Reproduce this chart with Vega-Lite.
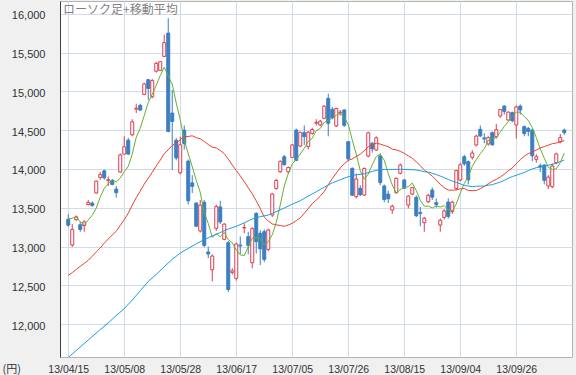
{
 "$schema": "https://vega.github.io/schema/vega-lite/v6.json",
 "width": 512, "height": 356,
 "autosize": {"type": "none"},
 "padding": {"left": 60, "top": 1, "right": 4, "bottom": 18},
 "background": "#f0f0f0",
 "title": {"text": "ローソク足+移動平均", "anchor": "start", "frame": "group", "orient": "top", "offset": -16, "dx": 3, "fontSize": 12, "font": "Noto Sans CJK JP", "fontWeight": "normal", "color": "#808080"},
 "data": {"values": [
{"i":0,"o":13350,"h":13415,"l":13255,"c":13275,"m5":13358,"m25":12628,"m75":11570},
{"i":1,"o":13020,"h":13290,"l":12995,"c":13221,"m5":13364,"m25":12663},
{"i":2,"o":13345,"h":13400,"l":13330,"c":13382,"m5":13382,"m25":12705,"m75":11660},
{"i":3,"o":13280,"h":13320,"l":13190,"c":13220,"m5":13317,"m25":12745},
{"i":4,"o":13270,"h":13340,"l":13190,"c":13317,"m5":13283,"m25":12782},
{"i":5,"o":13540,"h":13600,"l":13530,"c":13568,"m5":13342,"m25":12822,"m75":11795},
{"i":6,"o":13560,"h":13580,"l":13510,"c":13529,"m5":13403,"m25":12875},
{"i":7,"o":13690,"h":13850,"l":13680,"c":13843,"m5":13495,"m25":12930},
{"i":8,"o":13890,"h":13960,"l":13860,"c":13926,"m5":13637,"m25":12981,"m75":11930},
{"i":9,"o":13975,"h":13990,"l":13860,"c":13884,"m5":13750,"m25":13043},
{"i":10,"o":13850,"h":13900,"l":13780,"c":13860,"m5":13808,"m25":13096,"m75":12015},
{"i":11,"o":13850,"h":13870,"l":13790,"c":13799,"m5":13862,"m25":13149},
{"i":12,"o":13740,"h":13780,"l":13630,"c":13694,"m5":13833,"m25":13197,"m75":12110},
{"i":13,"o":13960,"h":14200,"l":13950,"c":14180,"m5":13883,"m25":13271},
{"i":14,"o":14190,"h":14420,"l":14190,"c":14285,"m5":13964,"m25":13346,"m75":12200},
{"i":15,"o":14370,"h":14400,"l":14180,"c":14191,"m5":14030,"m25":13428},
{"i":16,"o":14440,"h":14640,"l":14420,"c":14607,"m5":14191,"m25":13533,"m75":12310},
{"i":17,"o":14770,"h":14840,"l":14720,"c":14782,"m5":14409,"m25":13629},
{"i":18,"o":14820,"h":14840,"l":14750,"c":14758,"m5":14525,"m25":13714,"m75":12430},
{"i":19,"o":14960,"h":15110,"l":14950,"c":15096,"m5":14687,"m25":13805},
{"i":20,"o":15150,"h":15160,"l":14890,"c":15037,"m5":14856,"m25":13879,"m75":12550},
{"i":21,"o":14930,"h":15160,"l":14910,"c":15138,"m5":14962,"m25":13956},
{"i":22,"o":15260,"h":15380,"l":15240,"c":15360,"m5":15078,"m25":14039,"m75":12640},
{"i":23,"o":15270,"h":15390,"l":15260,"c":15381,"m5":15202,"m25":14113},
{"i":24,"o":15450,"h":15730,"l":15440,"c":15627,"m5":15309,"m25":14198,"m75":12740},
{"i":25,"o":15750,"h":15942,"l":14470,"c":14483,"m5":15198,"m25":14247},
{"i":26,"o":14720,"h":15017,"l":13985,"c":14612,"m5":15093,"m25":14302,"m75":12835},
{"i":27,"o":14370,"h":14400,"l":14110,"c":14142,"m5":14849,"m25":14333},
{"i":28,"o":13950,"h":14415,"l":13930,"c":14311,"m5":14635,"m25":14376,"m75":12915},
{"i":29,"o":14500,"h":14560,"l":14250,"c":14326,"m5":14375,"m25":14417},
{"i":30,"o":14100,"h":14120,"l":13540,"c":13589,"m5":14196,"m25":14418,"m75":12975},
{"i":31,"o":13820,"h":13920,"l":13690,"c":13775,"m5":14029,"m25":14427},
{"i":32,"o":13560,"h":13570,"l":13250,"c":13262,"m5":13853,"m25":14404,"m75":13035},
{"i":33,"o":13200,"h":13600,"l":13180,"c":13533,"m5":13697,"m25":14388},
{"i":34,"o":13570,"h":13600,"l":12990,"c":13014,"m5":13435,"m25":14354,"m75":13090},
{"i":35,"o":12930,"h":13000,"l":12850,"c":12904,"m5":13298,"m25":14315},
{"i":36,"o":12700,"h":12900,"l":12550,"c":12877,"m5":13118,"m25":14279,"m75":13135},
{"i":37,"o":13234,"h":13540,"l":13200,"c":13514,"m5":13168,"m25":14271},
{"i":38,"o":13510,"h":13590,"l":13290,"c":13317,"m5":13125,"m25":14237,"m75":13180},
{"i":39,"o":13092,"h":13300,"l":13080,"c":13289,"m5":13180,"m25":14197},
{"i":40,"o":13049,"h":13072,"l":12415,"c":12445,"m5":13088,"m25":14127,"m75":13225},
{"i":41,"o":12667,"h":12720,"l":12640,"c":12686,"m5":13050,"m25":14050},
{"i":42,"o":12590,"h":13050,"l":12560,"c":13033,"m5":12954,"m25":13980,"m75":13260},
{"i":43,"o":13019,"h":13130,"l":12900,"c":13007,"m5":12892,"m25":13910},
{"i":44,"o":13240,"h":13300,"l":13170,"c":13245,"m5":12883,"m25":13836,"m75":13305},
{"i":45,"o":13127,"h":13190,"l":12900,"c":13014,"m5":12997,"m25":13756},
{"i":46,"o":12791,"h":13250,"l":12720,"c":13230,"m5":13106,"m25":13679,"m75":13355},
{"i":47,"o":13427,"h":13440,"l":12910,"c":13062,"m5":13112,"m25":13587},
{"i":48,"o":13170,"h":13210,"l":12760,"c":12969,"m5":13104,"m25":13491,"m75":13385},
{"i":49,"o":13191,"h":13220,"l":12800,"c":12834,"m5":13022,"m25":13379},
{"i":50,"o":12963,"h":13230,"l":12940,"c":13213,"m5":13062,"m25":13328,"m75":13405},
{"i":51,"o":13406,"h":13690,"l":13380,"c":13677,"m5":13151,"m25":13291},
{"i":52,"o":13749,"h":13870,"l":13730,"c":13852,"m5":13309,"m25":13279,"m75":13450},
{"i":53,"o":13964,"h":14110,"l":13950,"c":14098,"m5":13535,"m25":13271},
{"i":54,"o":14157,"h":14180,"l":14040,"c":14055,"m5":13779,"m25":13260,"m75":13495},
{"i":55,"o":13964,"h":14030,"l":13940,"c":14018,"m5":13940,"m25":13277},
{"i":56,"o":14149,"h":14320,"l":14140,"c":14309,"m5":14066,"m25":13299,"m75":13545},
{"i":57,"o":14501,"h":14520,"l":14100,"c":14109,"m5":14118,"m25":13333},
{"i":58,"o":14295,"h":14480,"l":14280,"c":14472,"m5":14193,"m25":13370,"m75":13590},
{"i":59,"o":14467,"h":14560,"l":14310,"c":14416,"m5":14265,"m25":13426},
{"i":60,"o":14290,"h":14490,"l":14250,"c":14472,"m5":14356,"m25":13489,"m75":13650},
{"i":61,"o":14458,"h":14530,"l":14440,"c":14506,"m5":14395,"m25":13554},
{"i":62,"o":14590,"h":14640,"l":14560,"c":14599,"m5":14493,"m25":13598,"m75":13705},
{"i":63,"o":14566,"h":14630,"l":14550,"c":14615,"m5":14522,"m25":13649},
{"i":64,"o":14652,"h":14820,"l":14640,"c":14808,"m5":14600,"m25":13710,"m75":13765},
{"i":65,"o":14909,"h":14970,"l":14420,"c":14589,"m5":14623,"m25":13796},
{"i":66,"o":14768,"h":14800,"l":14640,"c":14658,"m5":14654,"m25":13875,"m75":13820},
{"i":67,"o":14553,"h":14790,"l":14540,"c":14778,"m5":14690,"m25":13945},
{"i":68,"o":14720,"h":14760,"l":14690,"c":14731,"m5":14713,"m25":14014,"m75":13860},
{"i":69,"o":14759,"h":14770,"l":14540,"c":14562,"m5":14664,"m25":14066},
{"i":70,"o":14351,"h":14360,"l":14100,"c":14129,"m5":14572,"m25":14111,"m75":13900},
{"i":71,"o":14007,"h":14020,"l":13650,"c":13661,"m5":14372,"m25":14128},
{"i":72,"o":13642,"h":13940,"l":13620,"c":13869,"m5":14190,"m25":14161,"m75":13925},
{"i":73,"o":13749,"h":13790,"l":13650,"c":13668,"m5":13978,"m25":14189},
{"i":74,"o":13663,"h":14020,"l":13650,"c":14005,"m5":13866,"m25":14235,"m75":13937},
{"i":75,"o":14166,"h":14480,"l":14150,"c":14466,"m5":13934,"m25":14285,"m75":13953},
{"i":76,"o":14329,"h":14350,"l":14210,"c":14258,"m5":14053,"m25":14309,"m75":13967},
{"i":77,"o":14243,"h":14420,"l":14230,"c":14401,"m5":14160,"m25":14331,"m75":13981},
{"i":78,"o":14166,"h":14200,"l":13790,"c":13824,"m5":14191,"m25":14320,"m75":13989},
{"i":79,"o":13780,"h":13800,"l":13570,"c":13605,"m5":14111,"m25":14302,"m75":13993},
{"i":80,"o":13676,"h":13720,"l":13560,"c":13615,"m5":13941,"m25":14286,"m75":13993},
{"i":81,"o":13470,"h":13540,"l":13420,"c":13519,"m5":13793,"m25":14254,"m75":13993},
{"i":82,"o":13694,"h":13890,"l":13680,"c":13879,"m5":13688,"m25":14245,"m75":13994},
{"i":83,"o":13943,"h":14070,"l":13930,"c":14050,"m5":13734,"m25":14228,"m75":13995},
{"i":84,"o":13857,"h":13870,"l":13740,"c":13752,"m5":13763,"m25":14201,"m75":13994},
{"i":85,"o":13534,"h":13660,"l":13490,"c":13650,"m5":13770,"m25":14168,"m75":13991},
{"i":86,"o":13676,"h":13770,"l":13660,"c":13758,"m5":13818,"m25":14138,"m75":13990},
{"i":87,"o":13633,"h":13660,"l":13380,"c":13397,"m5":13721,"m25":14090,"m75":13986},
{"i":88,"o":13440,"h":13510,"l":13260,"c":13424,"m5":13596,"m25":14043,"m75":13976},
{"i":89,"o":13307,"h":13380,"l":13190,"c":13365,"m5":13519,"m25":13985,"m75":13964},
{"i":90,"o":13577,"h":13680,"l":13560,"c":13660,"m5":13521,"m25":13948,"m75":13957},
{"i":91,"o":13728,"h":13760,"l":13600,"c":13636,"m5":13496,"m25":13907,"m75":13944},
{"i":92,"o":13565,"h":13620,"l":13500,"c":13542,"m5":13525,"m25":13858,"m75":13927},
{"i":93,"o":13277,"h":13360,"l":13190,"c":13338,"m5":13508,"m25":13802,"m75":13908},
{"i":94,"o":13376,"h":13480,"l":13350,"c":13459,"m5":13527,"m25":13758,"m75":13887},
{"i":95,"o":13573,"h":13620,"l":13360,"c":13388,"m5":13473,"m25":13728,"m75":13865},
{"i":96,"o":13449,"h":13590,"l":13420,"c":13572,"m5":13460,"m25":13725,"m75":13844},
{"i":97,"o":13749,"h":13990,"l":13730,"c":13978,"m5":13547,"m25":13729,"m75":13825},
{"i":98,"o":13857,"h":14080,"l":13840,"c":14053,"m5":13690,"m25":13744,"m75":13808},
{"i":99,"o":14157,"h":14180,"l":14040,"c":14065,"m5":13811,"m25":13747,"m75":13787},
{"i":100,"o":14093,"h":14110,"l":13800,"c":13860,"m5":13906,"m25":13723,"m75":13779},
{"i":101,"o":14149,"h":14240,"l":14120,"c":14205,"m5":14032,"m25":13720,"m75":13773},
{"i":102,"o":14308,"h":14440,"l":14290,"c":14423,"m5":14121,"m25":13721,"m75":13777},
{"i":103,"o":14510,"h":14560,"l":14410,"c":14425,"m5":14196,"m25":13745,"m75":13778},
{"i":104,"o":14400,"h":14460,"l":14330,"c":14387,"m5":14260,"m25":13777,"m75":13779},
{"i":105,"o":14321,"h":14420,"l":14300,"c":14404,"m5":14369,"m25":13808,"m75":13790},
{"i":106,"o":14467,"h":14480,"l":14300,"c":14311,"m5":14390,"m25":13840,"m75":13797},
{"i":107,"o":14415,"h":14580,"l":14390,"c":14505,"m5":14406,"m25":13865,"m75":13814},
{"i":108,"o":14682,"h":14770,"l":14660,"c":14766,"m5":14475,"m25":13894,"m75":13830},
{"i":109,"o":14810,"h":14820,"l":14700,"c":14742,"m5":14546,"m25":13933,"m75":13853},
{"i":110,"o":14630,"h":14740,"l":14620,"c":14732,"m5":14611,"m25":13976,"m75":13878},
{"i":111,"o":14725,"h":14740,"l":14600,"c":14620,"m5":14673,"m25":14011,"m75":13901},
{"i":112,"o":14566,"h":14820,"l":14390,"c":14799,"m5":14732,"m25":14067,"m75":13918},
{"i":113,"o":14810,"h":14830,"l":14700,"c":14760,"m5":14731,"m25":14120,"m75":13937},
{"i":114,"o":14544,"h":14560,"l":14420,"c":14455,"m5":14673,"m25":14164,"m75":13953},
{"i":115,"o":14523,"h":14540,"l":14420,"c":14484,"m5":14624,"m25":14197,"m75":13980},
{"i":116,"o":14501,"h":14520,"l":14100,"c":14170,"m5":14534,"m25":14218,"m75":14000},
{"i":117,"o":14123,"h":14190,"l":14080,"c":14157,"m5":14405,"m25":14243,"m75":14015},
{"i":118,"o":14040,"h":14070,"l":13960,"c":14024,"m5":14258,"m25":14270,"m75":14028},
{"i":119,"o":14050,"h":14060,"l":13800,"c":13853,"m5":14138,"m25":14286,"m75":14036},
{"i":120,"o":13780,"h":13920,"l":13740,"c":13894,"m5":14020,"m25":14306,"m75":14048},
{"i":121,"o":13771,"h":14070,"l":13750,"c":14037,"m5":13993,"m25":14325,"m75":14059},
{"i":122,"o":14080,"h":14210,"l":14060,"c":14194,"m5":14000,"m25":14334,"m75":14074},
{"i":123,"o":14351,"h":14450,"l":14330,"c":14404,"m5":14081,"m25":14348,"m75":14093},
{"i":124,"o":14501,"h":14520,"l":14440,"c":14467,"m5":14203,"m25":14364,"m75":14115}
 ]},
 "encoding": {
  "x": {"field": "i", "type": "quantitative",
   "scale": {"domain": [-0.809, 124.68], "nice": false, "zero": false},
   "axis": {"values": [0,14,28,42,56,70,84,98,112],
    "labelExpr": "['13/04/15','13/05/08','13/05/28','13/06/17','13/07/05','13/07/26','13/08/15','13/09/04','13/09/26'][round(datum.value/14)]",
    "grid": true, "gridColor": "#d3dbe8", "ticks": false, "domain": false, "title": null,
    "labelPadding": 7, "labelFontSize": 10.5, "labelFont": "Liberation Sans", "labelColor": "#333333", "labelFlush": false, "labelOverlap": false}}
 },
 "layer": [
  {"mark": {"type": "rule", "strokeWidth": 1, "clip": true},
   "encoding": {
    "y": {"field": "l", "type": "quantitative",
     "scale": {"domain": [11576, 16164], "nice": false, "zero": false},
     "axis": {"values": [12000,12500,13000,13500,14000,14500,15000,15500,16000], "format": ",d",
      "grid": true, "gridColor": "#d3dbe8", "ticks": false, "domain": true, "domainColor": "#404040",
      "labelPadding": 15, "labelOffset": 2, "labelFontSize": 11, "labelFont": "Liberation Sans", "labelColor": "#333333",
      "title": "(円)", "titleAngle": 0, "titleX": -58, "titleY": 371, "titleAlign": "left", "titleBaseline": "alphabetic",
      "titleFont": "Noto Sans CJK JP", "titleFontSize": 11, "titleFontWeight": "normal", "titleColor": "#333333"}},
    "y2": {"field": "h"},
    "color": {"condition": {"test": "datum.c >= datum.o", "value": "#dc3c50"}, "value": "#3c7fc0"}
   }},
  {"mark": {"type": "bar", "size": 3, "strokeWidth": 1, "clip": true},
   "encoding": {
    "y": {"field": "o", "type": "quantitative"},
    "y2": {"field": "c"},
    "fill": {"condition": {"test": "datum.c >= datum.o", "value": "#ffffff"}, "value": "#3c7fc0"},
    "stroke": {"condition": {"test": "datum.c >= datum.o", "value": "#dc3c50"}, "value": "#3c7fc0"}
   }},
  {"mark": {"type": "line", "strokeWidth": 1, "color": "#66b030", "clip": true},
   "encoding": {"y": {"field": "m5", "type": "quantitative"}}},
  {"mark": {"type": "line", "strokeWidth": 1, "color": "#f0402a", "clip": true},
   "encoding": {"y": {"field": "m25", "type": "quantitative"}}},
  {"transform": [{"filter": "isValid(datum.m75)"}],
   "mark": {"type": "line", "strokeWidth": 1, "color": "#1a9ee0", "clip": true},
   "encoding": {"y": {"field": "m75", "type": "quantitative"}}}
 ],
 "config": {"view": {"stroke": "#b4b4b4", "fill": "#ffffff"}}
}
